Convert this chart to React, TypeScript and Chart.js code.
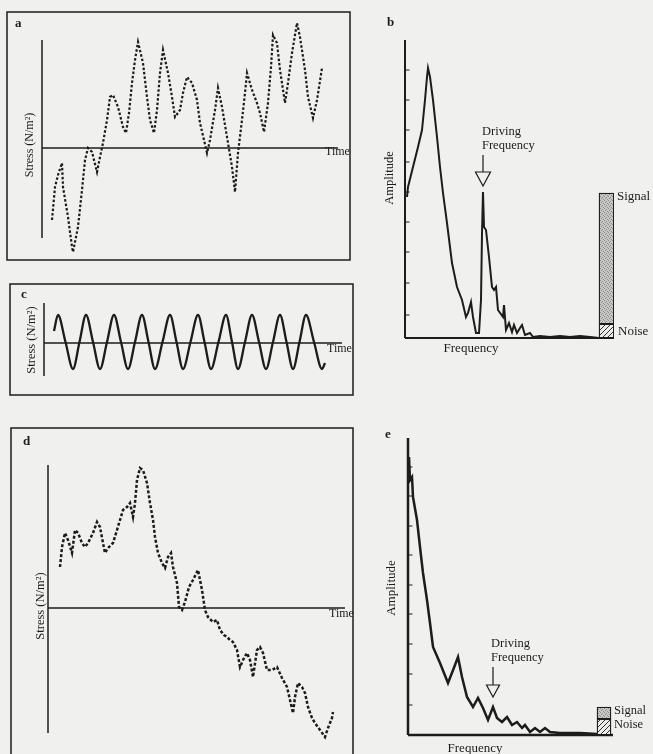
import { useEffect, useRef } from "react";
import { Chart, registerables } from "chart.js";

Chart.register(...registerables);

// ---------------- Panel a: noisy stress vs time ----------------
const aTime = [10, 13, 16, 20, 21, 26, 30, 31, 36, 40, 43, 46, 50, 55, 58, 61, 65, 68, 71, 76, 81, 84, 87, 90, 93, 96, 101, 105, 108, 112, 115, 118, 121, 126, 130, 133, 138, 141, 145, 150, 155, 158, 162, 165, 168, 173, 176, 180, 185, 190, 193, 196, 200, 203, 205, 210, 215, 218, 222, 226, 229, 231, 235, 238, 243, 246, 250, 255, 258, 263, 266, 271, 275, 280];
const aStress = [-72, -39, -27, -15, -39, -69, -99, -104, -79, -42, -12, 0, -4, -24, -9, 5, 28, 51, 53, 41, 21, 15, 35, 65, 88, 106, 85, 51, 28, 15, 38, 75, 98, 75, 51, 31, 38, 55, 71, 65, 48, 25, 8, -5, 8, 38, 60, 41, 11, -19, -44, -5, 28, 55, 75, 58, 45, 35, 16, 45, 81, 113, 105, 78, 45, 65, 95, 125, 111, 78, 51, 30, 48, 80];

// ---------------- Panel b: spectrum of a ----------------
const bFreq = [2, 3, 8, 13, 17, 20, 22, 23, 25, 28, 32, 35, 38, 42, 47, 52, 57, 61, 63, 66, 68, 71, 74, 76, 77, 78, 79, 81, 84, 87, 89, 91, 93, 98, 99, 101, 104, 107, 109, 112, 115, 117, 120, 125, 128, 135, 145, 155, 165, 175, 185, 194];
const bAmp = [141, 151, 171, 191, 208, 238, 261, 270, 261, 238, 201, 171, 145, 115, 75, 51, 38, 21, 25, 36, 21, 5, 5, 38, 105, 146, 111, 108, 81, 51, 48, 51, 28, 21, 33, 8, 15, 6, 13, 5, 10, 13, 3, 5, 1, 2, 1, 2, 1, 2, 1, 0];
const bTicks = [23, 55, 86, 116, 146, 176, 208, 238, 268];
const bDrivingFreq = 78;
const bNoise = 14;
const bSignal = 145;

// ---------------- Panel c: pure driving oscillation ----------------
const cTime = [10, 14, 21.5, 29, 35.5, 42, 49, 56, 63, 70, 77, 84, 91, 98, 104.5, 111, 118.5, 126, 132.5, 139, 146.5, 154, 160.5, 167, 174.5, 182, 188, 194, 201, 208, 215, 222, 229, 236, 242.5, 249, 255.5, 262, 270, 278, 281];
const cStress = [12, 28, 1, -26, 1, 28, 1, -26, 1, 28, 1, -26, 1, 28, 1, -26, 1, 28, 1, -26, 1, 28, 1, -26, 1, 28, 1, -26, 1, 28, 1, -26, 1, 28, 1, -26, 1, 28, 1, -26, -20];

// ---------------- Panel d: drifting stress vs time ----------------
const dTime = [12, 14, 17, 20, 24, 27, 30, 34, 37, 40, 45, 49, 52, 55, 57, 60, 65, 69, 72, 75, 79, 82, 85, 87, 89, 92, 95, 99, 102, 105, 107, 110, 114, 117, 120, 123, 125, 129, 131, 134, 137, 141, 145, 150, 154, 157, 160, 165, 169, 172, 176, 179, 182, 185, 189, 192, 195, 199, 202, 205, 209, 212, 215, 219, 224, 229, 234, 239, 242, 245, 247, 250, 254, 257, 260, 264, 267, 272, 277, 280, 284, 285];
const dStress = [41, 61, 75, 68, 55, 78, 75, 65, 61, 65, 75, 86, 81, 65, 55, 60, 65, 78, 88, 98, 101, 105, 91, 105, 128, 140, 138, 125, 105, 88, 71, 55, 45, 40, 51, 55, 41, 25, 1, -2, 6, 21, 28, 38, 18, -2, -9, -14, -12, -22, -27, -29, -32, -34, -42, -59, -52, -45, -52, -69, -42, -39, -45, -62, -62, -59, -70, -79, -92, -105, -89, -75, -79, -85, -99, -110, -115, -122, -129, -120, -110, -104];

// ---------------- Panel e: spectrum of d ----------------
const eFreq = [1, 2, 4, 5, 9, 12, 15, 19, 22, 25, 32, 40, 47, 50, 54, 59, 65, 70, 75, 80, 85, 89, 94, 99, 104, 109, 114, 117, 122, 127, 132, 137, 142, 152, 159, 172, 189];
const eAmp = [278, 255, 258, 238, 215, 188, 162, 135, 112, 88, 72, 52, 70, 78, 58, 38, 28, 37, 27, 15, 28, 17, 13, 18, 10, 13, 7, 10, 3, 7, 3, 7, 3, 2, 2, 2, 1];
const eTicks = [30, 61, 91, 121, 150, 180, 209, 239, 268];
const eDrivingFreq = 85;
const eNoise = 16;
const eSignal = 28;

// ---------------- styling ----------------
const FONT = '"Liberation Serif", "Times New Roman", serif';
const INK = "#1c1c1c";
const PAPER = "#f0f0ee";

type Region = { x: number; y: number; w: number; h: number };
type Area = { l: number; t: number; r: number; b: number };
type Label = { text: string; x: number; y: number; size: number; align?: CanvasTextAlign; rot?: boolean; bold?: boolean };
type Arrow = { value: number; stemTop: number; triTop: number; tip: number; half: number };
type Spec = {
  axisWidth: number;
  baseline: number;
  frame?: Area;
  ticks?: number[];
  arrow?: Arrow;
  labels: Label[];
};

function drawText(ctx: CanvasRenderingContext2D, l: Label) {
  ctx.save();
  ctx.fillStyle = INK;
  ctx.font = `${l.bold ? "bold " : ""}${l.size}px ${FONT}`;
  ctx.textBaseline = "middle";
  if (l.rot) {
    ctx.translate(l.x, l.y);
    ctx.rotate(-Math.PI / 2);
    ctx.textAlign = "center";
    ctx.fillText(l.text, 0, 0);
  } else {
    ctx.textAlign = l.align ?? "left";
    ctx.fillText(l.text, l.x, l.y);
  }
  ctx.restore();
}

function decor(region: Region, spec: Spec) {
  const mapper = (chart: any) => {
    const xs = chart.scales.x;
    const ys = chart.scales.y;
    return {
      xs,
      ys,
      X: (v: number) => xs.getPixelForValue(v) + region.x,
      Y: (v: number) => ys.getPixelForValue(v) + region.y,
    };
  };
  return {
    id: "panelDecor",
    beforeDatasetsDraw(chart: any) {
      const ctx: CanvasRenderingContext2D = chart.ctx;
      const { xs, ys, X, Y } = mapper(chart);
      ctx.save();
      ctx.translate(-region.x, -region.y);
      ctx.strokeStyle = INK;
      ctx.lineWidth = spec.axisWidth;
      ctx.lineCap = "butt";
      ctx.beginPath();
      ctx.moveTo(X(xs.min), Y(ys.max));
      ctx.lineTo(X(xs.min), Y(ys.min));
      ctx.moveTo(X(xs.min), Y(spec.baseline));
      ctx.lineTo(X(xs.max), Y(spec.baseline));
      ctx.stroke();
      if (spec.ticks) {
        ctx.lineWidth = 1.2;
        ctx.beginPath();
        for (const t of spec.ticks) {
          ctx.moveTo(X(xs.min), Y(t));
          ctx.lineTo(X(xs.min) + 4.5, Y(t));
        }
        ctx.stroke();
      }
      ctx.restore();
    },
    afterDatasetsDraw(chart: any) {
      const ctx: CanvasRenderingContext2D = chart.ctx;
      const { X } = mapper(chart);
      ctx.save();
      ctx.translate(-region.x, -region.y);
      if (spec.frame) {
        const f = spec.frame;
        ctx.strokeStyle = "#2a2a2a";
        ctx.lineWidth = 1.6;
        ctx.strokeRect(f.l, f.t, f.r - f.l, f.b - f.t);
      }
      if (spec.arrow) {
        const a = spec.arrow;
        const ax = X(a.value);
        ctx.strokeStyle = INK;
        ctx.lineWidth = 1.2;
        ctx.beginPath();
        ctx.moveTo(ax, a.stemTop);
        ctx.lineTo(ax, a.triTop);
        ctx.moveTo(ax - a.half, a.triTop);
        ctx.lineTo(ax + a.half, a.triTop);
        ctx.lineTo(ax, a.tip);
        ctx.closePath();
        ctx.stroke();
      }
      for (const l of spec.labels) drawText(ctx, l);
      ctx.restore();
    },
  };
}

function pattern(kind: "stipple" | "hatch"): CanvasPattern | string {
  const c = document.createElement("canvas");
  const size = kind === "stipple" ? 4 : 5;
  c.width = size;
  c.height = size;
  const g = c.getContext("2d");
  if (!g) return "#bbbbbb";
  if (kind === "stipple") {
    g.fillStyle = "#c6c6c4";
    g.fillRect(0, 0, size, size);
    g.fillStyle = "#8e8e8c";
    g.fillRect(0, 0, 1, 1);
    g.fillRect(2, 1, 1, 1);
    g.fillRect(1, 2, 1, 1);
    g.fillRect(3, 3, 1, 1);
  } else {
    g.fillStyle = "#ececea";
    g.fillRect(0, 0, size, size);
    g.strokeStyle = "#333333";
    g.lineWidth = 1;
    g.beginPath();
    g.moveTo(-1, size + 1);
    g.lineTo(size + 1, -1);
    g.stroke();
  }
  const p = g.createPattern(c, "repeat");
  return p ?? "#bbbbbb";
}

function lineDataset(xv: number[], yv: number[], extra: Record<string, unknown>) {
  return {
    type: "line" as const,
    data: xv.map((x, i) => ({ x, y: yv[i] })),
    borderColor: INK,
    borderWidth: 2,
    pointRadius: 0,
    tension: 0,
    clip: false as const,
    ...extra,
  };
}

function barDatasets(freq: number[], noise: number, signal: number, thickness: number) {
  return [
    {
      type: "bar" as const,
      data: freq.map((x) => ({ x, y: [0, noise] })),
      backgroundColor: pattern("hatch"),
      borderColor: INK,
      borderWidth: 1.3,
      borderSkipped: false as const,
      barThickness: thickness,
      grouped: false,
    },
    {
      type: "bar" as const,
      data: freq.map((x) => ({ x, y: [noise, signal] })),
      backgroundColor: pattern("stipple"),
      borderColor: INK,
      borderWidth: 1.3,
      borderSkipped: false as const,
      barThickness: thickness,
      grouped: false,
    },
  ];
}

function makeChart(
  canvas: HTMLCanvasElement,
  region: Region,
  area: Area,
  xr: [number, number],
  yr: [number, number],
  datasets: any[],
  spec: Spec
) {
  return new Chart(canvas, {
    type: "line",
    data: { datasets },
    options: {
      responsive: false,
      animation: false,
      devicePixelRatio: 1,
      events: [],
      layout: {
        padding: {
          left: area.l - region.x,
          top: area.t - region.y,
          right: region.x + region.w - area.r,
          bottom: region.y + region.h - area.b,
        },
      },
      plugins: {
        legend: { display: false },
        tooltip: { enabled: false },
        title: { display: false },
      },
      scales: {
        x: { type: "linear", display: false, offset: false, min: xr[0], max: xr[1] },
        y: { type: "linear", display: false, offset: false, min: yr[0], max: yr[1] },
      },
    } as any,
    plugins: [decor(region, spec) as any],
  });
}

type PanelDef = { region: Region; build: (c: HTMLCanvasElement, r: Region) => Chart };

function PanelCanvas({ def }: { def: PanelDef }) {
  const ref = useRef<HTMLCanvasElement>(null);
  useEffect(() => {
    if (!ref.current) return;
    const chart = def.build(ref.current, def.region);
    return () => chart.destroy();
  }, [def]);
  const r = def.region;
  return (
    <canvas
      ref={ref}
      width={r.w}
      height={r.h}
      style={{ position: "absolute", left: r.x, top: r.y, width: r.w, height: r.h }}
    />
  );
}

const STRESS = "Stress (N/m\u00B2)";

const panels: PanelDef[] = [
  {
    region: { x: 0, y: 0, w: 360, h: 270 },
    build: (c, r) =>
      makeChart(c, r, { l: 42, t: 40, r: 338, b: 238 }, [0, 296], [-90, 108],
        [lineDataset(aTime, aStress, { borderDash: [2.5, 2], borderWidth: 2.2 })],
        {
          axisWidth: 1.5,
          baseline: 0,
          frame: { l: 7, t: 12, r: 350, b: 260 },
          labels: [
            { text: "a", x: 15, y: 24, size: 13, bold: true },
            { text: STRESS, x: 30, y: 145, size: 12, rot: true },
            { text: "Time", x: 325, y: 152, size: 12 },
          ],
        }),
  },
  {
    region: { x: 360, y: 0, w: 293, h: 380 },
    build: (c, r) =>
      makeChart(c, r, { l: 405, t: 40, r: 614, b: 338 }, [0, 209], [0, 298],
        [
          lineDataset(bFreq, bAmp, { borderWidth: 2 }),
          ...barDatasets([201.5], bNoise, bSignal, 15),
        ],
        {
          axisWidth: 2,
          baseline: 0,
          ticks: bTicks,
          arrow: { value: bDrivingFreq, stemTop: 155, triTop: 172, tip: 186, half: 7.5 },
          labels: [
            { text: "b", x: 387, y: 23, size: 13, bold: true },
            { text: "Amplitude", x: 390, y: 178, size: 12.5, rot: true },
            { text: "Frequency", x: 471, y: 349, size: 13, align: "center" },
            { text: "Driving", x: 482, y: 132, size: 12.5 },
            { text: "Frequency", x: 482, y: 146, size: 12.5 },
            { text: "Signal", x: 617, y: 197, size: 13 },
            { text: "Noise", x: 618, y: 332, size: 13 },
          ],
        }),
  },
  {
    region: { x: 0, y: 272, w: 360, h: 130 },
    build: (c, r) =>
      makeChart(c, r, { l: 44, t: 303, r: 342, b: 376 }, [0, 298], [-33, 40],
        [lineDataset(cTime, cStress, { borderWidth: 2.3, cubicInterpolationMode: "monotone" })],
        {
          axisWidth: 1.5,
          baseline: 0,
          frame: { l: 10, t: 284, r: 353, b: 395 },
          labels: [
            { text: "c", x: 21, y: 295, size: 13, bold: true },
            { text: STRESS, x: 32, y: 340, size: 12.5, rot: true },
            { text: "Time", x: 327, y: 349, size: 12 },
          ],
        }),
  },
  {
    region: { x: 0, y: 415, w: 360, h: 339 },
    build: (c, r) =>
      makeChart(c, r, { l: 48, t: 465, r: 345, b: 733 }, [0, 297], [-125, 143],
        [lineDataset(dTime, dStress, { borderDash: [3, 2], borderWidth: 2.5 })],
        {
          axisWidth: 1.5,
          baseline: 0,
          frame: { l: 11, t: 428, r: 353, b: 800 },
          labels: [
            { text: "d", x: 23, y: 442, size: 13, bold: true },
            { text: STRESS, x: 41, y: 606, size: 12.5, rot: true },
            { text: "Time", x: 329, y: 614, size: 12 },
          ],
        }),
  },
  {
    region: { x: 360, y: 420, w: 293, h: 334 },
    build: (c, r) =>
      makeChart(c, r, { l: 408, t: 438, r: 613, b: 735 }, [0, 205], [0, 297],
        [
          lineDataset(eFreq, eAmp, { borderWidth: 2.5 }),
          ...barDatasets([196], eNoise, eSignal, 14),
        ],
        {
          axisWidth: 2.5,
          baseline: 0,
          ticks: eTicks,
          arrow: { value: eDrivingFreq, stemTop: 667, triTop: 685, tip: 697, half: 6.5 },
          labels: [
            { text: "e", x: 385, y: 435, size: 13, bold: true },
            { text: "Amplitude", x: 392, y: 588, size: 13, rot: true },
            { text: "Frequency", x: 475, y: 749, size: 13, align: "center" },
            { text: "Driving", x: 491, y: 644, size: 12.5 },
            { text: "Frequency", x: 491, y: 658, size: 12.5 },
            { text: "Signal", x: 614, y: 711, size: 12.5 },
            { text: "Noise", x: 614, y: 725, size: 12.5 },
          ],
        }),
  },
];

export default function App() {
  return (
    <div
      style={{
        position: "absolute",
        left: 0,
        top: 0,
        width: 653,
        height: 754,
        overflow: "hidden",
        background: PAPER,
      }}
    >
      {panels.map((p, i) => (
        <PanelCanvas key={i} def={p} />
      ))}
    </div>
  );
}
